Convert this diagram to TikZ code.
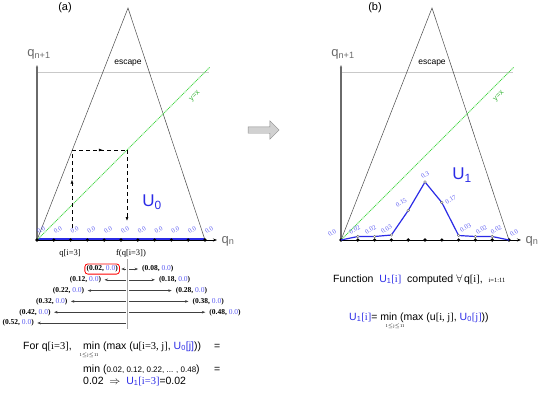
\documentclass[tikz,border=0pt]{standalone}
\usepackage{fontspec}
\setmainfont{Liberation Sans}
\newfontfamily\cwserif{Liberation Serif}
\usetikzlibrary{arrows.meta,shapes.arrows,decorations.markings}
\definecolor{cwblue}{HTML}{2B2BE6}
\definecolor{cwval}{HTML}{5C5CF2}
\definecolor{cwgreen}{HTML}{44D644}
\definecolor{cwaxis}{HTML}{6A6A6A}
\definecolor{cwline}{HTML}{4A4A4A}
\definecolor{cwhair}{HTML}{C9C9C9}
\newcommand{\cwframe}[2]{%
  \draw[cwhair] (#1,72) -- (#1+172,72);
  \draw[cwline,line width=0.5pt] (#1,240) -- (#1+91,8) -- (#1+168,240);
  \draw[cwgreen,dash pattern=on 1pt off 0.8pt,line width=0.9pt] (#1,240) -- (#1+173,67);
  \draw[cwaxis,line width=1.2pt,-{Stealth[length=3pt]}] (#1,240) -- (#1,65);
  \draw[line width=0.8pt,-{Stealth[length=4pt]}] (#1,240) -- (#1+180,240);
  \node[font=\fontsize{13}{14}\selectfont,text=cwaxis] (#2qy) at (#1+2,54) {q\textsubscript{n+1}};
  \node[font=\fontsize{13}{14}\selectfont,text=cwaxis] (#2qx) at (#1+191,241) {q\textsubscript{n}};
  \node[font=\fontsize{8.5}{9}\selectfont] (#2esc) at (#1+91,63) {escape};
  \node[font=\fontsize{7.5}{8}\selectfont,text=cwgreen!85!black,rotate=45] (#2yx) at (#1+158,96) {y=x};}
\newcommand{\cwdots}[1]{%
  \foreach \k in {0,...,10}{\fill (#1+16.8*\k,240) circle (1.8pt);}}

\begin{document}
\begin{tikzpicture}[x=1pt,y=-1pt,
  cwtxt/.style={font=\fontsize{10.5}{12}\selectfont,inner sep=0pt},
  cwnum/.style={font=\cwserif\fontsize{6.5}{7}\selectfont,text=cwval,rotate=30,inner sep=0.5pt},
  cwpair/.style={font=\cwserif\fontsize{7.5}{8}\selectfont,inner sep=1.5pt},
  cwarr/.style={draw=black!75,line width=0.5pt,-{Stealth[length=3.5pt,width=2.6pt]}},
  cwdash/.style={dash pattern=on 4pt off 3pt,line width=0.6pt},
  cwmid/.style={postaction={decorate},decoration={markings,mark=at position #1 with {\arrow{Latex[length=4pt]}}}}]
  \useasboundingbox (0,0) rectangle (538,394);
  % (a)
  \node[font=\fontsize{11}{12}\selectfont] (alab) at (65,8) {(a)};
  \draw[cwblue,line width=1.6pt] (37,239) -- (205,239);
  \cwframe{37}{a}\cwdots{37}
  \foreach \k in {0,...,10}{\node[cwnum] (av\k) at (41+16.8*\k,230) {0.0};}
  \node[font=\fontsize{17}{18}\selectfont,text=cwblue] (au) at (152,202) {U\textsubscript{0}};
  \coordinate (c0) at (72,228); \coordinate (c1) at (72,150);
  \coordinate (c2) at (127,150); \coordinate (c3) at (127,221);
  \draw[cwdash,cwmid=0.62] (c0) -- (c1);
  \draw[cwdash,cwmid=0.56] (c1) -- (c2);
  \draw[cwdash,-{Latex[length=4pt]}] (c2) -- (c3);
  \node[font=\cwserif\fontsize{8.5}{9}\selectfont] (aq) at (70,253) {q[i=3]};
  \node[font=\cwserif\fontsize{8.5}{9}\selectfont] (af) at (131,253) {f(q[i=3])};
  \draw[black!35] (127,259) -- (127,329);
  \foreach \r/\v in {0/0.02,1/0.12,2/0.22,3/0.32,4/0.42,5/0.52}{%
    \draw[cwarr] (126,269+10.8*\r) -- (121.3-16.8*\r,269+10.8*\r);
    \node[cwpair,anchor=east] (l\r) at (119.5-16.8*\r,269+10.8*\r) {\textbf{(\v,} {\color{cwval}0.0}\textbf{)}};}
  \foreach \r/\v in {0/0.08,1/0.18,2/0.28,3/0.38,4/0.48}{%
    \draw[cwarr] (129,269+10.8*\r) -- (138.1+16.8*\r,269+10.8*\r);
    \node[cwpair,anchor=west] (r\r) at (140.5+16.8*\r,269+10.8*\r) {\textbf{(\v,} {\color{cwval}0.0}\textbf{)}};}
  \draw[red,line width=0.8pt,rounded corners=3pt] (l0.south west) rectangle (l0.north east);
  \node[cwtxt,anchor=base west] (afor) at (23,349) {For q{\cwserif[i=3]},};
  \node[cwtxt,anchor=base west] (am1) at (83,349) {min (max (u{\cwserif[i=3, j]}, {\color{cwblue}U\textsubscript{0}[j]}))};
  \node[font=\cwserif\fontsize{4.5}{5}\selectfont] (ajj) at (89,355) {1$\le$j$\le$11};
  \node[cwtxt,anchor=base west] (am2) at (83,372) {min ({\fontsize{8}{9}\selectfont 0.02, 0.12, 0.22, ... , 0.48})};
  \node[cwtxt,anchor=base west] (aeq1) at (214,349) {=};
  \node[cwtxt,anchor=base west] (aeq2) at (214,372) {=};
  \node[cwtxt,anchor=base west] (am3) at (83,384) {0.02 \ $\Rightarrow$ \ {\color{cwblue}U\textsubscript{1}{\cwserif[i=3]}}=0.02};
  % middle
  \node[single arrow,draw=black!45,fill=black!18,minimum height=31pt,inner sep=3pt,
    single arrow head extend=6pt] (mid) at (262,130) {};
  % (b)
  \node[font=\fontsize{11}{12}\selectfont] (blab) at (375,8) {(b)};
  \cwframe{341}{b}\cwdots{341}
  \draw[cwblue,line width=1.2pt] (341,240) \foreach \k/\h in {1/3.5,2/3.5,3/5,4/29.5,5/58,6/37.5,7/4.5,8/3.5,9/3.5,10/0}{ -- (341+16.8*\k,240-\h)};
  \foreach \k/\h/\v/\dx/\dy in {0/0/0.0/-9/-7,1/3.5/0.02/-3/-7,2/3.5/0.02/-4/-7,3/5/0.03/-5/-6,4/29.5/0.15/-7/-8,
    5/58/0.3/0/-7,6/37.5/0.17/9/-3,7/4.5/0.03/7/-8,8/3.5/0.02/6/-7,9/3.5/0.02/4/-7,10/0/0.0/5/-7}{%
    \node[cwnum] (bv\k) at (341+16.8*\k+\dx,240-\h+\dy) {\v};}
  \foreach \k/\h in {1/3.5,2/3.5,3/5,4/29.5,5/58,6/37.5,7/4.5,8/3.5,9/3.5}{%
    \filldraw[draw=black!60,fill=white,line width=0.4pt] (341+16.8*\k,240-\h) circle (1.3pt);}
  \node[font=\fontsize{17}{18}\selectfont,text=cwblue] (bu) at (462,175) {U\textsubscript{1}};
  \node[cwtxt,anchor=base west] (bf) at (333,282) {Function \ {\color{cwblue}U\textsubscript{1}{\cwserif[i]}} \ computed $\forall$\,q{\cwserif[i]}, \ {\cwserif\fontsize{6.5}{7}\selectfont i=1:11}};
  \node[cwtxt,anchor=base west] (bm) at (349,320) {{\color{cwblue}U\textsubscript{1}{\cwserif[i]}}= min (max (u{\cwserif[i, j]}, {\color{cwblue}U\textsubscript{0}{\cwserif[j]}}))};
  \node[font=\cwserif\fontsize{4.5}{5}\selectfont] (bjj) at (395,326) {1$\le$j$\le$11};
\end{tikzpicture}
\end{document}
